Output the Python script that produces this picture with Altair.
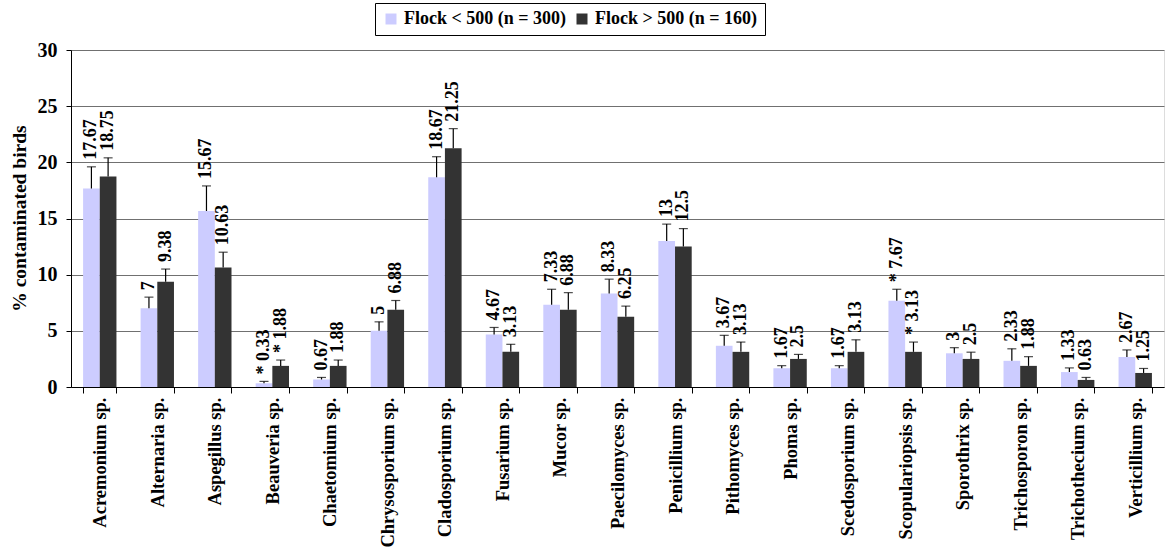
import altair as alt
import pandas as pd

# Fungal genera isolated from the birds
genera = [
    "Acremonium sp.", "Alternaria sp.", "Aspegillus sp.", "Beauveria sp.",
    "Chaetomium sp.", "Chrysosporium sp.", "Cladosporium sp.", "Fusarium sp.",
    "Mucor sp.", "Paecilomyces sp.", "Penicillium sp.", "Pithomyces sp.",
    "Phoma sp.", "Scedosporium sp.", "Scopulariopsis sp.", "Sporothrix sp.",
    "Trichosporon sp.", "Trichothecium sp.", "Verticillium sp.",
]

series_names = ["Flock < 500 (n = 300)", "Flock > 500 (n = 160)"]
series_colors = ["#CCCCFF", "#333333"]

# % contaminated birds per flock size
small_flock = [17.67, 7, 15.67, 0.33, 0.67, 5, 18.67, 4.67, 7.33, 8.33,
               13, 3.67, 1.67, 1.67, 7.67, 3, 2.33, 1.33, 2.67]
large_flock = [18.75, 9.38, 10.63, 1.88, 1.88, 6.88, 21.25, 3.13, 6.88, 6.25,
               12.5, 3.13, 2.5, 3.13, 3.13, 2.5, 1.88, 0.63, 1.25]

# upper error (standard error) per bar
small_err = [1.93, 1.0, 2.23, 0.17, 0.18, 0.8, 1.83, 0.63, 1.37, 1.27,
             1.5, 0.93, 0.23, 0.23, 1.03, 0.5, 1.07, 0.37, 0.63]
large_err = [1.65, 1.12, 1.37, 0.52, 0.52, 0.82, 1.75, 0.67, 1.52, 0.95,
             1.6, 0.87, 0.4, 1.07, 0.87, 0.6, 0.82, 0.22, 0.4]

# significant differences between flock sizes
small_star = [False, False, False, True, False, False, False, False, False, False,
              False, False, False, False, True, False, False, False, False]
large_star = [False, False, False, True, False, False, False, False, False, False,
              False, False, False, False, True, False, False, False, False]

FONT = "'Liberation Serif', 'Times New Roman', Times, serif"
XLABEL_FS = 18.5
YLABEL_FS = 20
TITLE_FS = 19.5
MARK_FS = 18

rows = []
for i, genus in enumerate(genera):
    for name, vals, errs, stars in (
        (series_names[0], small_flock, small_err, small_star),
        (series_names[1], large_flock, large_err, large_star),
    ):
        v = vals[i]
        rows.append({
            "genus": genus,
            "flock": name,
            "pct": v,
            "upper": v + errs[i],
            "label": ("* " if stars[i] else "") + f"{v:g}",
        })
df = pd.DataFrame(rows)

x_enc = alt.X(
    "genus:N", sort=genera,
    scale=alt.Scale(paddingInner=0.42, paddingOuter=0.21),
    axis=alt.Axis(
        title=None, labelAngle=270, tickBand="extent", tickSize=6,
        labelPadding=4, labelFont=FONT, labelFontSize=XLABEL_FS,
        labelFontWeight="bold", labelColor="black", labelLimit=300,
        domainColor="black", tickColor="black", grid=False,
    ),
)
xo_enc = alt.XOffset("flock:N", sort=series_names,
                     scale=alt.Scale(paddingInner=0, paddingOuter=0))

y_scale = alt.Scale(domain=[0, 30], nice=False)
y_axis = alt.Axis(
    title="% contaminated birds",
    values=[0, 5, 10, 15, 20, 25, 30], grid=True, gridColor="#707070",
    gridWidth=1, domainColor="black", tickColor="black", tickSize=5,
    labelPadding=9, labelFont=FONT, labelFontSize=YLABEL_FS,
    labelFontWeight="bold", labelColor="black",
    titleFont=FONT, titleFontSize=TITLE_FS, titleFontWeight="bold",
    titleColor="black", titleAngle=270, titleAlign="center",
    titleBaseline="middle", titleX=-52, titleY=168,
)

base = alt.Chart(df).encode(x=x_enc, xOffset=xo_enc)

bars = base.mark_bar().encode(
    y=alt.Y("pct:Q", scale=y_scale, axis=y_axis),
    color=alt.Color(
        "flock:N",
        scale=alt.Scale(domain=series_names, range=series_colors),
        legend=alt.Legend(
            title=None, orient="none", legendX=304, legendY=-47,
            direction="horizontal", symbolType="square", symbolSize=121,
            symbolStrokeWidth=0, labelFont=FONT, labelFontSize=MARK_FS,
            labelFontWeight="bold", labelColor="black", labelLimit=400,
            strokeColor="black", fillColor="white", padding=7,
            columnPadding=6, labelOffset=4,
        ),
    ),
)

err_lines = base.mark_rule(color="black", strokeWidth=1.2).encode(
    y=alt.Y("pct:Q", scale=y_scale, axis=y_axis),
    y2="upper:Q",
)

err_caps = base.mark_tick(color="black", size=9, thickness=1.2,
                          orient="horizontal").encode(
    y=alt.Y("upper:Q", scale=y_scale, axis=y_axis),
)

labels = base.mark_text(
    angle=270, align="left", baseline="middle", dx=7,
    font=FONT, fontSize=MARK_FS, fontWeight="bold", color="black",
).encode(
    y=alt.Y("upper:Q", scale=y_scale, axis=y_axis),
    text="label:N",
)

chart = (
    alt.layer(bars, err_lines, err_caps, labels)
    .properties(
        width=1093, height=337,
        autosize=alt.AutoSizeParams(type="none"),
        padding={"left": 71, "top": 50, "right": 7, "bottom": 163},
    )
    .configure_view(stroke="#808080", strokeWidth=1)
    .configure(font=FONT)
)

chart.save("out.html", embed_options={"renderer": "svg", "actions": False})
